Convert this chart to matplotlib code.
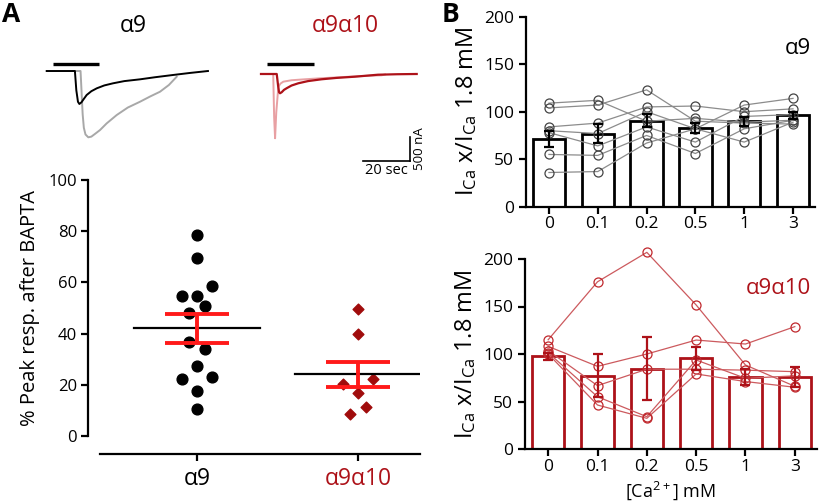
import numpy as np
import matplotlib.pyplot as plt

plt.rcParams['font.family'] = ['Open Sans', 'DejaVu Sans']
plt.rcParams['mathtext.default'] = 'regular'

W, H = 820, 503
RED = '#ad1219'
PINK = '#e8a0a3'
BRIGHT = '#ff1a1a'

# ---- panel A, example traces (time in s, current in nA from baseline)
a9_bapta_t = [0, 12.0, 12.6, 13.3, 13.9, 14.8, 15.8, 17.0, 19.0, 21.3, 24.5, 28.2, 33.0,
              39.7, 46.0, 53.7, 61.0, 68.6]
a9_bapta_i = [0, 0, -400, -640, -686, -650, -580, -499, -420, -360, -300, -256, -210,
              -173, -130, -83, -40, 0]
a9_ctrl_t = [11.0, 14.4, 14.8, 15.3, 15.8, 16.5, 17.7, 19.0, 20.5, 22.7, 25.5, 29.8, 34.5,
             39.7, 44.0, 48.2, 52.0, 55.3]
a9_ctrl_i = [0, 0, -400, -900, -1180, -1320, -1379, -1365, -1310, -1227, -1090, -915, -760,
             -639, -530, -431, -290, -119]
a910_bapta_t = [0, 6.7, 7.3, 7.7, 8.1, 8.8, 9.8, 10.9, 13.0, 15.9, 20.0, 25.8, 32.0, 40.0,
                49.8, 58.0, 66.3]
a910_bapta_i = [0, 0, -250, -380, -401, -380, -330, -297, -240, -193, -148, -110, -82, -56,
                -15, -5, 0]
a910_ctrl_t = [0, 5.2, 5.6, 6.0, 6.5, 7.4, 8.3, 9.5, 13.0, 18.7, 25.0, 32.9, 42.0, 51.4, 52.8]
a910_ctrl_i = [0, 0, -900, -1337, -800, -264, -200, -160, -130, -110, -90, -69, -45, -27, -10]
ach_pulse = [2.6, 22.4]

# ---- panel A, % peak response after BAPTA
a9_vals = [78.7, 69.6, 58.4, 54.6, 54.6, 50.8, 48.2, 36.8, 34.0, 27.4, 22.4, 23.2, 17.5, 10.4]
a910_vals = [49.7, 39.9, 20.3, 22.4, 16.7, 11.5, 8.6]
group_means = [42.0, 24.1]
group_sems = [5.5, 4.85]
group_names = ['α9', 'α9α10']

# ---- panel B
conc = ['0', '0.1', '0.2', '0.5', '1', '3']
a9_bar = [71.2, 76.8, 90.5, 82.8, 89.8, 96.1]
a9_err = [8.7, 10.0, 7.0, 5.3, 4.5, 3.5]
a9_cells = [
    [109, 112, 90, 93, 89, 91],
    [104, 107, 123, 90, 88, 87],
    [84, 88, 105, 106, 100, 103],
    [80, 77, 100, 82, 107, 114],
    [78, 64, 84, 68, 95, 97],
    [55, 54, 75, 56, 82, 91],
    [36, 37, 67, 82, 68, 89],
]
a910_bar = [97.5, 77.0, 84.6, 95.5, 76.1, 75.4]
a910_err = [3.5, 22.5, 33.3, 12.3, 8.5, 10.5]
a910_cells = [
    [115, 176, 207, 151.6, 88.4, 66],
    [108, 87, 100, 114.7, 110.5, 128.8],
    [103.5, 66.7, 84, 84, 83, 81.4],
    [101.4, 55, 34, 93.7, 74.4, 77],
    [100, 46.3, 32.3, 79, 71, 65],
]

# layout-only: column slots of the scatter points
a9_slot = [0, 0, 2, -2, 0, 1, -1, -1, 1, 0, -2, 2, 0, 0]
a910_slot = [0, 0, -2, 2, 0, 1, -1]


def box(l, t, r, b):
    return [l / W, 1 - b / H, (r - l) / W, (b - t) / H]


fig = plt.figure(figsize=(8.2, 5.03), dpi=100)

# traces
tl = fig.add_axes(box(40, 55, 215, 145))
tl.set_xlim(-2.85, 71.6)
tl.set_ylim(-1539, 333)
tl.axis('off')
tl.plot(a9_ctrl_t, a9_ctrl_i, color='#a8a8a8', lw=1.4)
tl.plot(a9_bapta_t, a9_bapta_i, color='black', lw=1.4)
tl.plot(ach_pulse, [146, 146], color='black', lw=2.4, solid_capstyle='butt')

tr = fig.add_axes(box(255, 55, 420, 175))
tr.set_xlim(-2.55, 67.7)
tr.set_ylim(-2101, 395)
tr.axis('off')
tr.plot(a910_ctrl_t, a910_ctrl_i, color=PINK, lw=1.4)
tr.plot(a910_bapta_t, a910_bapta_i, color=RED, lw=1.6)
tr.plot(ach_pulse, [208, 208], color='black', lw=2.4, solid_capstyle='butt')
# scale bars
tr.plot([43.4, 63.4], [-1810, -1810], color='black', lw=1.2)
tr.plot([63.4, 63.4], [-1810, -1310], color='black', lw=1.2)
tr.text(53.4, -1860, '20 sec', ha='center', va='top', fontsize=10.5)
tr.text(64.6, -1560, '500 nA', ha='left', va='center', rotation=90, fontsize=9.5)

fig.text(133 / W, 1 - 26 / H, 'α9', ha='center', va='center', fontsize=16.5)
fig.text(345 / W, 1 - 26 / H, 'α9α10', ha='center', va='center', fontsize=16.5, color=RED)
fig.text(11 / W, 1 - 14 / H, 'A', ha='center', va='center', fontsize=19, fontweight='bold')
fig.text(450 / W, 1 - 14 / H, 'B', ha='center', va='center', fontsize=19, fontweight='bold')

# scatter panel
ax = fig.add_axes(box(88, 180, 420, 436))
ax.set_xlim(-0.677, 1.385)
ax.set_ylim(0, 100)
step = 0.047
ax.scatter(np.array(a9_slot) * step, a9_vals, s=60, color='black', zorder=3, clip_on=False)
ax.scatter(1 + np.array(a910_slot) * step, a910_vals, s=30, marker='D', color='#a00c0c',
           zorder=3, clip_on=False)
for i in range(2):
    ax.plot([i - 0.39, i + 0.39], [group_means[i]] * 2, color='black', lw=1.6, zorder=4)
    ax.errorbar(i, group_means[i], yerr=group_sems[i], color=BRIGHT, lw=2.8,
                capsize=0, zorder=5)
    for yy in (group_means[i] - group_sems[i], group_means[i] + group_sems[i]):
        ax.plot([i - 0.196, i + 0.196], [yy, yy], color=BRIGHT, lw=2.8, zorder=5,
                solid_capstyle='butt')
for s in ('top', 'right'):
    ax.spines[s].set_visible(False)
ax.spines['left'].set_linewidth(1.6)
ax.spines['bottom'].set_linewidth(1.6)
ax.spines['bottom'].set_position(('outward', 13))
ax.spines['bottom'].set_bounds(-0.6, 1.385)
ax.set_yticks([0, 20, 40, 60, 80, 100])
ax.set_xticks([0, 1])
ax.set_xticklabels(group_names, fontsize=16.5)
ax.get_xticklabels()[1].set_color(RED)
ax.tick_params(axis='y', labelsize=12, width=1.6, length=5, pad=3)
ax.tick_params(axis='x', width=1.6, length=5, pad=4)
ax.set_ylabel('% Peak resp. after BAPTA', fontsize=14.5, labelpad=6)


def panel_b(box_px, bars, errs, cells, col, line_col, mark_col, label, label_col, label_xy):
    axb = fig.add_axes(box(*box_px))
    x = np.arange(len(conc))
    axb.bar(x, bars, width=0.66, color='white', edgecolor=col, lw=2, zorder=1)
    for c in cells:
        axb.plot(x, c, color=line_col, lw=0.9, zorder=2, marker='o', ms=6.5,
                 mfc='none', mec=mark_col, mew=0.9, clip_on=False)
    axb.errorbar(x, bars, yerr=errs, fmt='none', ecolor=col, elinewidth=1.6,
                 capsize=3.5, capthick=1.6, zorder=3)
    axb.set_xlim(-0.47, 5.45)
    axb.set_ylim(0, 200)
    axb.set_yticks([0, 50, 100, 150, 200])
    axb.set_xticks(x)
    axb.set_xticklabels(conc)
    for s in ('top', 'right'):
        axb.spines[s].set_visible(False)
    axb.spines['left'].set_linewidth(1.6)
    axb.spines['bottom'].set_linewidth(1.6)
    axb.tick_params(labelsize=12.5, width=1.6, length=5)
    axb.tick_params(axis='x', pad=2)
    axb.set_ylabel('I$_{Ca}$ x/I$_{Ca}$ 1.8 mM', fontsize=17, labelpad=4)
    fig.text(label_xy[0] / W, 1 - label_xy[1] / H, label, ha='center', va='center',
             fontsize=16, color=label_col)
    return axb


panel_b((526, 16.7, 815, 206.7), a9_bar, a9_err, a9_cells, 'black', '#8c8c8c', '#444444',
        'α9', 'black', (798, 48))
panel_b((525, 259, 817, 449), a910_bar, a910_err, a910_cells, RED, '#cc5a5e', '#c0282d',
        'α9α10', RED, (778, 288))
fig.text(670 / W, 1 - 491 / H, '[Ca$^{2+}$] mM', ha='center', va='center', fontsize=13)

fig.savefig('out.png', dpi=100)
